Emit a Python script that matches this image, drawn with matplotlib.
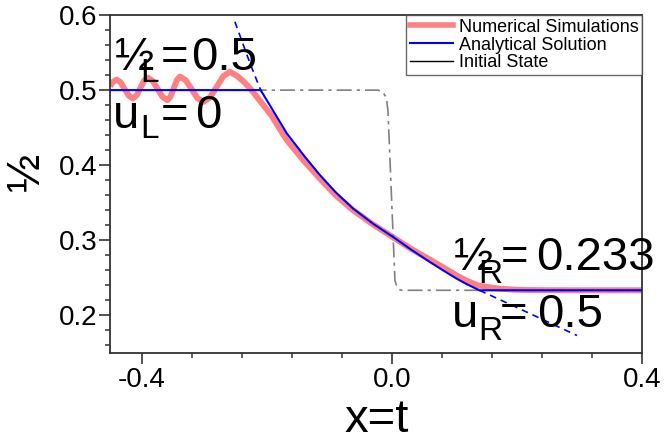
import matplotlib
matplotlib.use("Agg")
import matplotlib.pyplot as plt
from matplotlib.lines import Line2D
from matplotlib.ticker import MultipleLocator
from matplotlib.transforms import offset_copy

plt.rcParams['font.family'] = ['Liberation Sans', 'DejaVu Sans']

# ---- data ----
num_x = [-0.451, -0.447, -0.4405, -0.434, -0.4275, -0.421, -0.4144, -0.4084, -0.4024,
         -0.3964, -0.3904, -0.3826, -0.3748, -0.367, -0.3592, -0.3541, -0.3491, -0.344,
         -0.339, -0.3297, -0.3203, -0.311, -0.3016, -0.291, -0.2803, -0.2697, -0.259,
         -0.248, -0.236, -0.2245, -0.2085, -0.1925, -0.18, -0.168, -0.14, -0.115,
         -0.09, -0.062, -0.03, 0.0, 0.03, 0.061, 0.08, 0.1035, 0.12, 0.138, 0.155,
         0.173, 0.195, 0.22, 0.26, 0.32, 0.4]
num_rho = [0.505, 0.5105, 0.514, 0.5103, 0.5015, 0.4927, 0.489, 0.493, 0.5028,
           0.5125, 0.5165, 0.512, 0.5016, 0.491, 0.4867, 0.4913, 0.5024, 0.5134,
           0.518, 0.513, 0.5012, 0.4893, 0.4844, 0.4903, 0.5044, 0.5185, 0.5244,
           0.519, 0.5105, 0.5, 0.483, 0.466, 0.449, 0.4333, 0.405, 0.382,
           0.36, 0.34, 0.321, 0.305, 0.289, 0.2742, 0.265, 0.2533, 0.246, 0.240, 0.2375,
           0.2356, 0.2343, 0.2338, 0.2336, 0.2335, 0.2335]

ana_x = [-0.451, -0.21, -0.19, -0.168, -0.14, -0.115, -0.09, -0.062, -0.03, 0.002,
         0.03, 0.061, 0.08, 0.1035, 0.12, 0.14, 0.4]
ana_rho = [0.5, 0.5, 0.4725, 0.4422, 0.412, 0.3867, 0.364, 0.3422, 0.322, 0.3044,
           0.288, 0.271, 0.261, 0.249, 0.2415, 0.2335, 0.2335]

ext_top_x = [-0.2512, -0.227, -0.21]
ext_top_rho = [0.591, 0.5356, 0.5]
ext_bot_x = [0.14, 0.2, 0.296]
ext_bot_rho = [0.2335, 0.2105, 0.1733]

init_x = [-0.451, -0.0224, -0.015, -0.009, -0.0064, 0.0048, 0.008, 0.0115, 0.0155, 0.4]
init_rho = [0.5, 0.5, 0.498, 0.49, 0.473, 0.2467, 0.238, 0.2345, 0.2335, 0.2335]

labels = ['Numerical Simulations', 'Analytical Solution', 'Initial State']
state_texts = [('½', 'L', '=', '0.5'), ('u', 'L', '=', '0'),
               ('½', 'R', '=', '0.233'), ('u', 'R', '=', '0.5')]

pink = '#ff8080'
blue = '#0000ff'
gray = '#808080'

fig = plt.figure(figsize=(6.65, 4.41), dpi=100)
ax = fig.add_axes([110/665, 1-353/441, 532/665, 338/441])

ax.plot(num_x, num_rho, color=pink, lw=4.3, solid_capstyle='butt', zorder=2)
ax.plot(init_x, init_rho, color=gray, lw=1.2, ls=(0, (9, 3, 2, 3)), zorder=3)
ax.plot(ana_x, ana_rho, color=blue, lw=1.5, zorder=4)
ax.plot(ext_top_x, ext_top_rho, color=blue, lw=1.2, ls=(0, (4, 3)), zorder=4)
ax.plot(ext_bot_x, ext_bot_rho, color=blue, lw=1.2, ls=(0, (4, 3)), zorder=4)

ax.set_xlim(-0.451, 0.4)
ax.set_ylim(0.15, 0.6)
ax.xaxis.set_minor_locator(MultipleLocator(0.08))
ax.yaxis.set_minor_locator(MultipleLocator(0.02))
ax.set_xticks([-0.4, 0.0, 0.4])
ax.set_xticklabels(['-0.4', '0.0', '0.4'])
ax.set_yticks([0.2, 0.3, 0.4, 0.5, 0.6])
ax.set_yticklabels(['0.2', '0.3', '0.4', '0.5', '0.6'])

for s in ax.spines.values():
    s.set_color('#333333')
    s.set_linewidth(1.3)
ax.tick_params(which='major', direction='out', length=8, width=1.2, color='#333333',
               labelsize=20, pad=1)
ax.tick_params(which='minor', direction='out', length=3.5, width=1.1, color='#333333')
ax.tick_params(axis='x', pad=2)

ax.set_xlabel('x=t', fontsize=34)
ax.xaxis.set_label_coords(0.502, -0.132)
ax.set_ylabel('½', fontsize=33)
ax.yaxis.set_label_coords(-0.115, 0.535)

# text anchors (data coords of the left/baseline of each group)
anchors = [(-0.4464, 0.5267), (-0.4464, 0.4493), (0.096, 0.26), (0.096, 0.184)]
# pixel offsets: (main, subscript, equals, value) x-offsets and subscript drop
offs = [(2, 27, -12, 48, 78), (0, 27, -10, 48, 82),
        (2, 26, -13, 49, 84), (0, 26, -13, 48, 85)]
big, small = 34, 24
for (x0, y0), (m, s, sub, e, v), (t_main, t_sub, t_eq, t_val) in zip(anchors, offs, state_texts):
    def tr(dx, dy=0):
        return offset_copy(ax.transData, fig=fig, x=dx, y=dy, units='dots')
    ax.text(x0, y0, t_main, fontsize=big, va='baseline', ha='left', transform=tr(m), zorder=6)
    ax.text(x0, y0, t_sub, fontsize=small, va='baseline', ha='left', transform=tr(s, sub), zorder=6)
    ax.text(x0, y0, t_eq, fontsize=big, va='baseline', ha='left', transform=tr(e), zorder=6)
    ax.text(x0, y0, t_val, fontsize=big, va='baseline', ha='left', transform=tr(v), zorder=6)

handles = [Line2D([], [], color=pink, lw=4),
           Line2D([], [], color=blue, lw=1.5),
           Line2D([], [], color='black', lw=1.0)]
leg = ax.legend(handles, labels, loc='upper right', fontsize=13, borderaxespad=0,
                frameon=True, fancybox=False, handlelength=2.4, handletextpad=0.3,
                labelspacing=0.05, borderpad=0.2)
leg.get_frame().set_edgecolor('#444444')
leg.get_frame().set_linewidth(1.0)
leg.set_zorder(10)

fig.savefig('out.png', dpi=100)
